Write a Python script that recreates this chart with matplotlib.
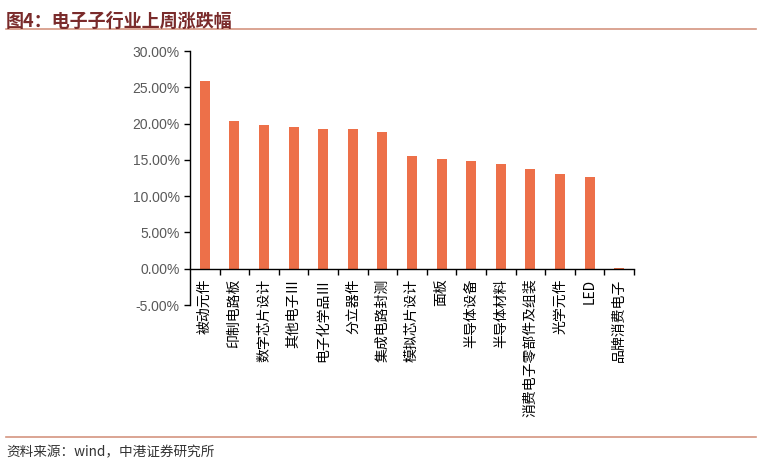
import matplotlib
matplotlib.use('Agg')
from matplotlib import pyplot as plt
from matplotlib.ticker import FuncFormatter, FixedLocator

plt.rcParams['font.family'] = ['Noto Sans CJK SC', 'DejaVu Sans']

categories = ['被动元件', '印制电路板', '数字芯片设计', '其他电子Ⅲ', '电子化学品Ⅲ', '分立器件',
              '集成电路封测', '模拟芯片设计', '面板', '半导体设备', '半导体材料',
              '消费电子零部件及组装', '光学元件', 'LED', '品牌消费电子']
values = [25.8, 20.3, 19.8, 19.5, 19.2, 19.2, 18.8, 15.5, 15.1, 14.8, 14.4, 13.8, 13.0, 12.6, 0.05]

fig = plt.figure(figsize=(7.62, 4.65), dpi=100)
ax = fig.add_axes([0.2493, 0.344, 0.5827, 0.5463])

x = list(range(len(values)))
ax.bar(x, values, width=0.34, color='#ED7049', zorder=2)

ax.set_ylim(-5, 30)
ax.set_xlim(-0.5, len(values) - 0.5)
ax.set_yticks([-5, 0, 5, 10, 15, 20, 25, 30])
ax.yaxis.set_major_formatter(FuncFormatter(lambda v, p: '%.2f%%' % v))
ax.tick_params(axis='y', direction='out', length=4, width=1, colors='black',
               labelcolor='#595959', labelsize=10)
for lab in ax.get_yticklabels():
    lab.set_fontfamily(['Liberation Sans', 'DejaVu Sans'])

# x轴在0处，刻度在类别之间
ax.spines['bottom'].set_position(('data', 0))
ax.spines['top'].set_visible(False)
ax.spines['right'].set_visible(False)
ax.spines['left'].set_linewidth(1)
ax.spines['bottom'].set_linewidth(1)
ax.set_xticks(x)
ax.set_xticklabels([])
ax.tick_params(axis='x', which='major', length=0)
ax.xaxis.set_minor_locator(FixedLocator([i + 0.5 for i in range(len(values))]))
ax.tick_params(axis='x', which='minor', direction='out', length=4, width=1)

# 类别标签紧贴0轴下方
for i, c in enumerate(categories):
    ax.annotate(c, xy=(i, 0), xycoords='data', xytext=(0, -7), textcoords='offset points',
                rotation=90, ha='center', va='top', fontsize=10, color='black')

# 标题和分隔线
fig.text(0.008, 0.975, '图4：电子子行业上周涨跌幅', fontsize=13, fontweight='bold',
         color='#7A2B2B', ha='left', va='top')
fig.add_artist(plt.Line2D([0.008, 0.992], [0.937, 0.937], color='#D49580', lw=1.2))
fig.add_artist(plt.Line2D([0.008, 0.992], [0.06, 0.06], color='#D49580', lw=1.2))
fig.text(0.008, 0.028, '资料来源：wind，中港证券研究所', fontsize=9.8, style='italic',
         color='#333333', ha='left', va='center')

fig.savefig('out.png', dpi=100)
